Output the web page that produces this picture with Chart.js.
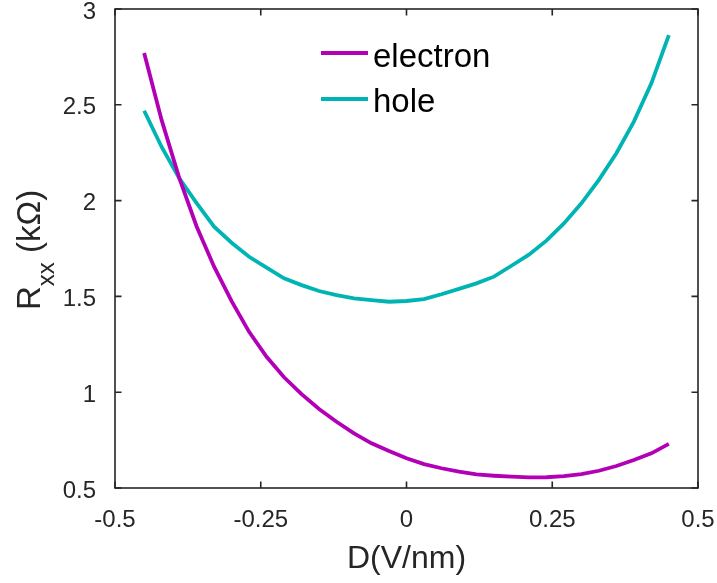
<!DOCTYPE html>
<html><head><meta charset="utf-8">
<script src="https://cdn.jsdelivr.net/npm/chart.js@4"></script>
<style>html,body{margin:0;padding:0;background:#fff}#wrap{width:717px;height:583px}</style>
</head><body><div id="wrap"><canvas id="c" width="717" height="583"></canvas></div>
<script>
const dValues = [-0.45,-0.42,-0.39,-0.36,-0.33,-0.30,-0.27,-0.24,-0.21,-0.18,-0.15,-0.12,-0.09,-0.06,-0.03,0,0.03,0.06,0.09,0.12,0.15,0.18,0.21,0.24,0.27,0.30,0.33,0.36,0.39,0.42,0.45];
const electron = [2.77,2.42,2.12,1.865,1.655,1.475,1.315,1.185,1.078,0.99,0.912,0.846,0.785,0.733,0.693,0.655,0.625,0.603,0.585,0.571,0.564,0.559,0.555,0.556,0.562,0.573,0.59,0.615,0.646,0.681,0.73];
const hole = [2.469,2.28,2.118,1.987,1.864,1.78,1.707,1.65,1.594,1.559,1.528,1.507,1.49,1.481,1.472,1.476,1.486,1.511,1.539,1.568,1.603,1.66,1.718,1.791,1.881,1.986,2.108,2.247,2.412,2.612,2.864];
const xTicks = [-0.5,-0.25,0,0.25,0.5];
const xTickLabels = ['-0.5','-0.25','0','0.25','0.5'];
const yTicks = [0.5,1,1.5,2,2.5,3];
const yTickLabels = ['0.5','1','1.5','2','2.5','3'];
const seriesNames = ['electron','hole'];
const seriesColors = ['#B200B6','#00B4B4'];
const xTitle = 'D(V/nm)';
const yTitleMain = 'R', yTitleSub = 'xx', yTitleRest = ' (kΩ)';

const FONT = "'Liberation Sans', Arial, sans-serif";
const AXC = '#262626';

const frame = {
  id: 'frame',
  afterDraw(chart) {
    const ctx = chart.ctx, a = chart.chartArea;
    const xs = chart.scales.x, ys = chart.scales.y;
    ctx.save();
    ctx.strokeStyle = AXC; ctx.lineWidth = 1.6;
    ctx.strokeRect(a.left, a.top, a.right - a.left, a.bottom - a.top);
    ctx.beginPath();
    const TL = 6.5;
    xTicks.forEach(v => {
      const p = xs.getPixelForValue(v);
      ctx.moveTo(p, a.bottom); ctx.lineTo(p, a.bottom - TL);
      ctx.moveTo(p, a.top); ctx.lineTo(p, a.top + TL);
    });
    yTicks.forEach(v => {
      const p = ys.getPixelForValue(v);
      ctx.moveTo(a.left, p); ctx.lineTo(a.left + TL, p);
      ctx.moveTo(a.right, p); ctx.lineTo(a.right - TL, p);
    });
    ctx.stroke();
    // x title
    ctx.fillStyle = AXC;
    ctx.font = '32px ' + FONT;
    ctx.textAlign = 'center'; ctx.textBaseline = 'alphabetic';
    ctx.fillText(xTitle, (a.left + a.right) / 2, 568);
    // y title with subscript
    ctx.save();
    ctx.translate(40, 310);
    ctx.rotate(-Math.PI / 2);
    ctx.textAlign = 'left';
    ctx.font = '33px ' + FONT;
    const wR = ctx.measureText(yTitleMain).width;
    ctx.fillText(yTitleMain, 0, 0);
    ctx.font = '24px ' + FONT;
    const wS = ctx.measureText(yTitleSub).width;
    ctx.fillText(yTitleSub, wR, 14);
    ctx.font = '33px ' + FONT;
    ctx.fillText(yTitleRest, wR + wS, 0);
    ctx.restore();
    // legend
    const ly = [53, 99], lb = [67, 112];
    seriesNames.forEach((n, i) => {
      ctx.strokeStyle = seriesColors[i]; ctx.lineWidth = 3.8;
      ctx.beginPath(); ctx.moveTo(321, ly[i]); ctx.lineTo(368, ly[i]); ctx.stroke();
      ctx.fillStyle = '#000';
      ctx.font = '33px ' + FONT;
      ctx.textAlign = 'left';
      ctx.fillText(n, 373, lb[i]);
    });
    ctx.restore();
  }
};

new Chart(document.getElementById('c'), {
  type: 'line',
  data: {
    datasets: [
      { label: seriesNames[0], data: dValues.map((x, i) => ({x, y: electron[i]})), borderColor: seriesColors[0], borderWidth: 3.8, pointRadius: 0, tension: 0, fill: false },
      { label: seriesNames[1], data: dValues.map((x, i) => ({x, y: hole[i]})), borderColor: seriesColors[1], borderWidth: 3.8, pointRadius: 0, tension: 0, fill: false }
    ]
  },
  options: {
    responsive: false, animation: false, devicePixelRatio: 1,
    layout: { padding: { top: 9, right: 19, left: 0, bottom: 0 } },
    plugins: { legend: { display: false }, tooltip: { enabled: false } },
    scales: {
      x: {
        type: 'linear', min: -0.5, max: 0.5,
        afterBuildTicks: s => { s.ticks = xTicks.map(v => ({ value: v })); },
        afterFit: s => { s.height = 95; s.paddingLeft = 0; s.paddingRight = 0; },
        grid: { display: false }, border: { display: false },
        ticks: { font: { family: FONT, size: 24 }, color: AXC, padding: 10, maxRotation: 0, autoSkip: false,
          callback: v => xTickLabels[xTicks.indexOf(v)] }
      },
      y: {
        type: 'linear', min: 0.5, max: 3,
        afterBuildTicks: s => { s.ticks = yTicks.map(v => ({ value: v })); },
        afterFit: s => { s.width = 115; s.paddingTop = 0; s.paddingBottom = 0; },
        grid: { display: false }, border: { display: false },
        ticks: { font: { family: FONT, size: 24 }, color: AXC, padding: 11, labelOffset: 3, autoSkip: false,
          callback: v => yTickLabels[yTicks.indexOf(v)] }
      }
    }
  },
  plugins: [frame]
});
</script>
</body></html>
